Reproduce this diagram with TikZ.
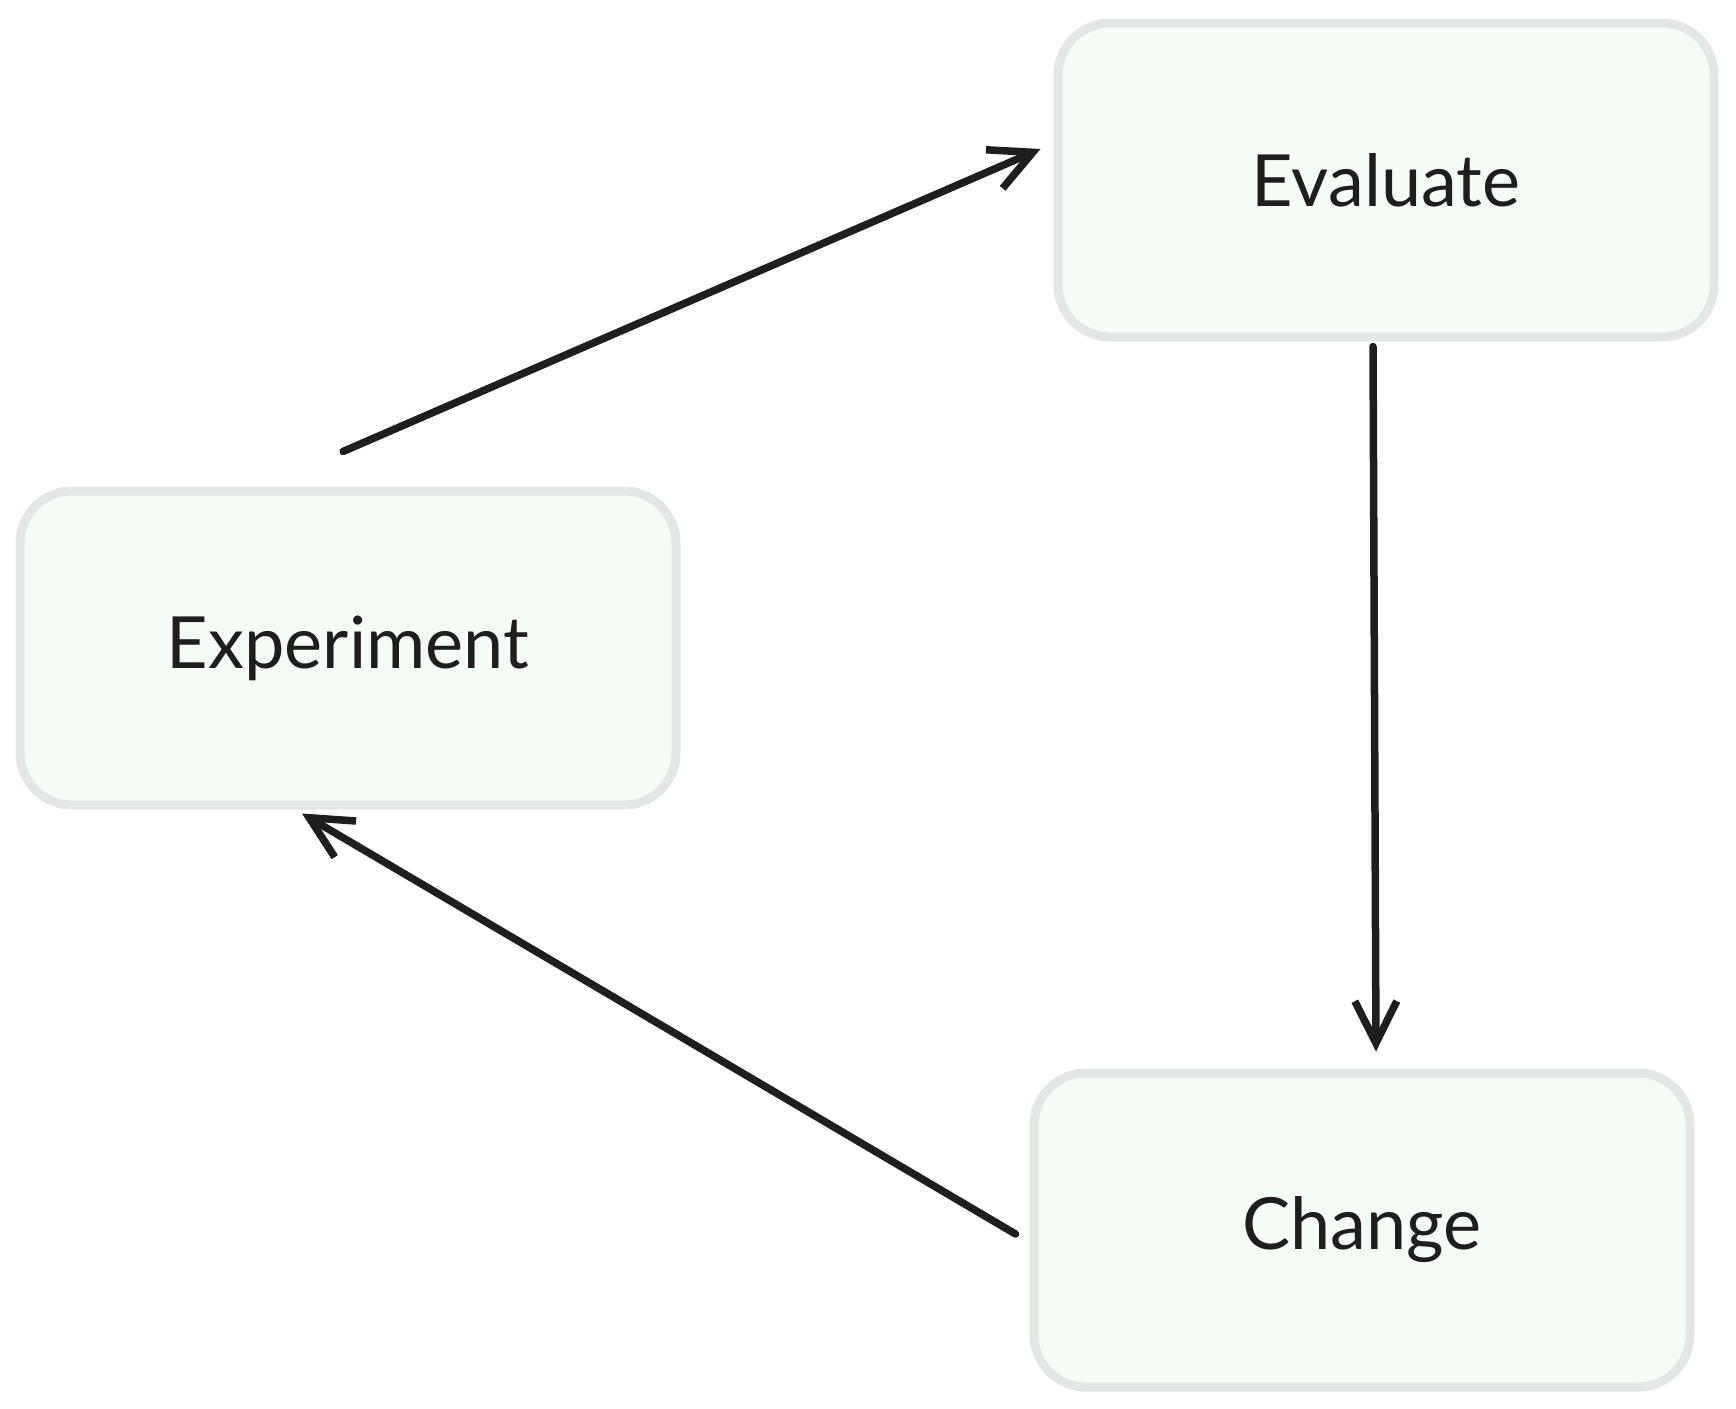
\documentclass[tikz,border=0pt]{standalone}
\usepackage{xcolor}
\usepackage{fontspec}
\setmainfont{Lato}
\usepackage{tikz}
\usetikzlibrary{arrows.meta,calc}

\definecolor{boxline}{HTML}{E3E7E3}
\definecolor{boxfill}{HTML}{F5FCF5}
\definecolor{inkline}{HTML}{1E1E1E}

\tikzset{
  stagebox/.style={draw=boxline, fill=boxfill, line width=9pt, rounded corners=52pt,
    minimum width=656pt, minimum height=314pt, inner sep=0pt,
    font=\fontsize{72}{80}\selectfont, text=inkline},
  flowarrow/.style={draw=inkline, line width=7.5pt, line cap=round, line join=round,
    -{Straight Barb[length=42pt,width=42pt,line width=7.5pt]}}
}

\begin{document}
\begin{tikzpicture}[x=1pt,y=1pt,yscale=-1,xscale=1]
        \useasboundingbox (0,0) rectangle (1736,1408);

        %Shape: Rounded Rect [id:evaluate]
        \node[stagebox] (eval) at (1386,180) {Evaluate};
        %Shape: Rounded Rect [id:experiment]
        \node[stagebox] (exp) at (348,648) {Experiment};
        %Shape: Rounded Rect [id:change]
        \node[stagebox] (chg) at (1362,1230) {Change};

        % Arrow ends
        \coordinate (expOut) at ($(exp.north)+(-5,-35)$);
        \coordinate (evalIn) at ($(eval.west)+(-13,-31)$);
        \coordinate (evalOut) at ($(eval.south)+(-13,5)$);
        \coordinate (chgIn) at ($(chg.north)+(14,-17)$);
        \coordinate (chgOut) at ($(chg.west)+(-14,4)$);
        \coordinate (expIn) at ($(exp.south)+(-46,4)$);

        %Arrow: Experiment to Evaluate
        \draw[flowarrow] (expOut) -- (evalIn);
        %Arrow: Evaluate to Change
        \draw[flowarrow] (evalOut) -- (chgIn);
        %Arrow: Change to Experiment
        \draw[flowarrow] (chgOut) -- (expIn);
\end{tikzpicture}
\end{document}
